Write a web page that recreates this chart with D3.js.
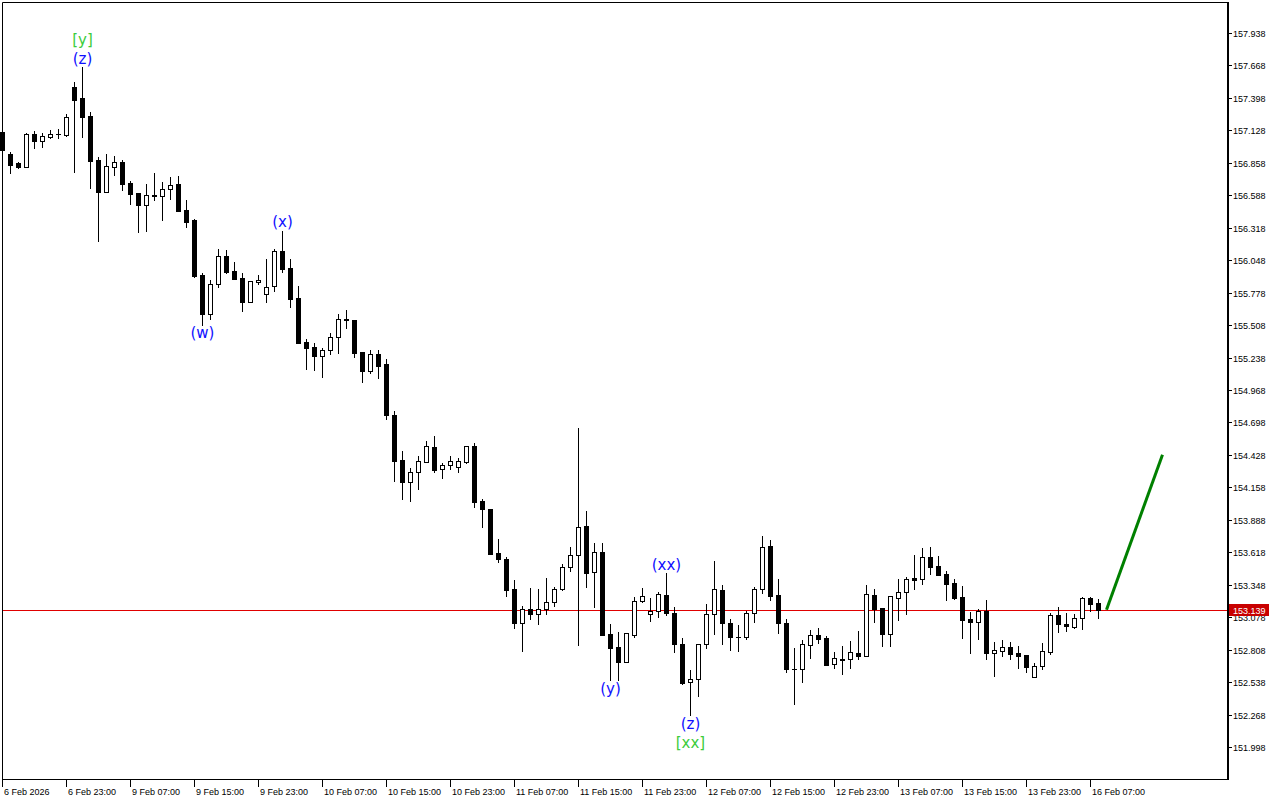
<!DOCTYPE html>
<html>
<head>
<meta charset="utf-8">
<script src="https://cdn.jsdelivr.net/npm/d3@7"></script>
<style>
  body { margin: 0; background: #fff; }
  svg { display: block; }
  text { font-family: "Liberation Sans", Arial, sans-serif; }
</style>
</head>
<body>
<svg width="1280" height="800"></svg>
<script>
// hourly candles, 6 Feb 2026 .. 16 Feb 2026
var open = [
157.114,156.931,156.857,156.823,157.098,157.040,157.073,157.094,157.089,157.489,
157.397,157.247,156.881,156.615,156.823,156.865,156.690,156.607,156.507,156.586,
156.582,156.640,156.682,156.465,156.382,155.925,155.600,155.850,156.083,155.958,
155.900,155.700,155.866,155.767,155.833,156.124,155.983,155.733,155.367,155.326,
155.251,155.301,155.409,155.559,155.550,155.284,155.126,155.267,155.184,154.760,
154.386,154.203,154.286,154.369,154.494,154.311,154.344,154.327,154.369,154.502,
154.044,153.978,153.612,153.562,153.312,153.030,153.146,153.104,153.146,153.204,
153.312,153.495,153.595,153.837,153.454,153.620,152.938,152.830,152.705,152.930,
153.213,153.104,153.129,153.262,153.113,152.855,152.539,152.564,152.855,153.104,
153.304,153.030,152.917,152.913,153.113,153.312,153.670,153.262,153.030,152.651,
152.647,152.846,152.930,152.905,152.688,152.734,152.730,152.780,152.755,153.262,
153.154,152.938,153.238,153.287,153.404,153.396,153.579,153.504,153.437,153.362,
153.246,153.063,153.038,153.129,152.780,152.797,152.830,152.780,152.763,152.580,
152.672,152.788,153.096,153.021,152.996,153.071,153.238,153.196];

var high = [
157.139,156.948,156.865,157.106,157.123,157.106,157.131,157.139,157.264,157.530,
157.655,157.281,156.906,156.931,156.915,156.881,156.707,156.607,156.682,156.773,
156.698,156.740,156.748,156.549,156.391,155.941,155.883,156.141,156.133,156.033,
155.941,155.875,155.925,156.058,156.141,156.291,156.058,155.833,155.392,155.359,
155.317,155.442,155.600,155.633,155.552,155.284,155.301,155.301,155.226,154.793,
154.460,154.319,154.419,154.544,154.585,154.361,154.419,154.402,154.506,154.527,
154.061,153.980,153.728,153.579,153.387,153.171,153.321,153.312,153.404,153.329,
153.520,153.662,154.652,153.961,153.695,153.695,153.021,152.955,152.946,153.246,
153.321,153.238,153.287,153.445,153.163,152.905,152.638,152.857,153.188,153.545,
153.346,153.063,153.013,153.129,153.329,153.753,153.720,153.396,153.063,152.822,
152.888,152.971,152.988,152.921,152.788,152.838,152.880,152.963,153.346,153.312,
153.156,153.256,153.396,153.412,153.595,153.654,153.662,153.587,153.462,153.396,
153.337,153.121,153.146,153.221,152.871,152.888,152.871,152.838,152.765,152.697,
152.863,153.113,153.163,153.113,153.104,153.246,153.246,153.229];

var low = [
156.940,156.773,156.815,156.823,156.981,156.990,157.064,157.064,157.081,156.782,
157.073,156.649,156.208,156.615,156.757,156.632,156.515,156.282,156.291,156.549,
156.382,156.557,156.455,156.324,155.908,155.509,155.559,155.825,155.941,155.891,
155.625,155.700,155.850,155.700,155.792,155.950,155.659,155.359,155.143,155.134,
155.076,155.267,155.276,155.484,155.242,155.034,155.109,155.068,154.727,154.211,
154.061,154.044,154.144,154.369,154.286,154.236,154.311,154.286,154.361,153.995,
153.828,153.602,153.537,153.254,152.988,152.797,153.063,153.021,153.104,153.171,
153.304,153.462,152.846,153.329,153.163,152.928,152.555,152.555,152.703,152.913,
153.204,153.046,153.079,153.096,152.788,152.522,152.264,152.422,152.822,152.938,
152.855,152.805,152.797,152.896,153.038,153.279,153.221,152.946,152.622,152.356,
152.539,152.738,152.863,152.678,152.655,152.605,152.655,152.730,152.753,153.038,
152.838,152.838,153.054,153.104,153.312,153.354,153.437,153.427,153.221,153.229,
152.905,152.780,152.896,152.730,152.589,152.755,152.730,152.655,152.622,152.578,
152.647,152.772,152.955,152.963,152.988,152.980,153.129,153.071];

var close = [
156.965,156.840,156.823,157.098,157.040,157.081,157.098,157.098,157.239,157.381,
157.239,156.873,156.615,156.832,156.865,156.682,156.599,156.507,156.590,156.590,
156.640,156.673,156.457,156.366,155.916,155.600,155.850,156.083,155.950,155.891,
155.700,155.875,155.883,155.825,156.124,155.975,155.725,155.359,155.317,155.251,
155.301,155.409,155.559,155.550,155.276,155.126,155.267,155.168,154.760,154.377,
154.203,154.286,154.377,154.502,154.302,154.344,154.377,154.377,154.502,154.036,
153.978,153.604,153.562,153.304,153.030,153.146,153.104,153.146,153.204,153.312,
153.495,153.595,153.828,153.445,153.620,152.930,152.822,152.705,152.946,153.213,
153.254,153.129,153.271,153.113,152.855,152.530,152.564,152.855,153.104,153.312,
153.030,152.913,152.909,153.113,153.312,153.662,153.254,153.030,152.647,152.647,
152.855,152.930,152.896,152.680,152.738,152.722,152.788,152.755,153.271,153.146,
152.938,153.254,153.287,153.396,153.387,153.579,153.495,153.429,153.354,153.238,
153.054,153.038,153.129,152.780,152.805,152.830,152.772,152.755,152.663,152.672,
152.797,153.096,153.021,153.005,153.071,153.238,153.188,153.139];

var timeLabels = ["6 Feb 2026","6 Feb 23:00","9 Feb 07:00","9 Feb 15:00","9 Feb 23:00",
  "10 Feb 07:00","10 Feb 15:00","10 Feb 23:00","11 Feb 07:00","11 Feb 15:00",
  "11 Feb 23:00","12 Feb 07:00","12 Feb 15:00","12 Feb 23:00","13 Feb 07:00",
  "13 Feb 15:00","13 Feb 23:00","16 Feb 07:00"];
var labelEvery = 8; // one time label every 8 bars

var priceTicks = d3.range(23).map(function(k) { return 151.998 + 0.27 * k; });
var lastPrice = 153.139;

// wave marks: bar index, text, side, stack level, colour
var waveBars   = [10, 10, 25, 35, 83, 76, 86, 86];
var waveTexts  = ["(z)", "[y]", "(w)", "(x)", "(xx)", "(y)", "(z)", "[xx]"];
var waveSides  = ["above", "above", "below", "above", "above", "below", "below", "below"];
var waveLevels = [0, 1, 0, 0, 0, 0, 0, 1];
var waveColors = ["#1010ff", "#3ccc3c", "#1010ff", "#1010ff", "#1010ff", "#1010ff", "#1010ff", "#3ccc3c"];

// projection line (bar index, price)
var projBars = [138, 145];
var projPrices = [153.139, 154.43];

var svg = d3.select("svg"),
    plotLeft = 2, plotTop = 2, plotRight = 1227, plotBottom = 779;

var x = d3.scaleLinear().domain([0, 1]).range([2, 10]);   // wick column of a bar
var y = d3.scaleLinear().domain([151.998, 157.938]).range([747, 33]);

var bars = d3.range(open.length).map(function(i) {
  return { i: i, o: open[i], h: high[i], l: low[i], c: close[i] };
});

// current price line
svg.append("line")
    .attr("x1", plotLeft).attr("x2", plotRight)
    .attr("y1", Math.round(y(lastPrice)) + 0.5).attr("y2", Math.round(y(lastPrice)) + 0.5)
    .attr("stroke", "#e00000").attr("stroke-width", 1);

// wicks
svg.append("g").selectAll("line")
    .data(bars)
    .enter().append("line")
    .attr("x1", function(d) { return x(d.i) + 0.5; })
    .attr("x2", function(d) { return x(d.i) + 0.5; })
    .attr("y1", function(d) { return Math.round(y(d.h)); })
    .attr("y2", function(d) { return Math.round(y(d.l)) + 1; })
    .attr("stroke", "#000").attr("stroke-width", 1);

// bodies
svg.append("g").selectAll("rect")
    .data(bars)
    .enter().append("rect")
    .each(function(d) {
      var top = Math.round(y(Math.max(d.o, d.c))),
          bot = Math.round(y(Math.min(d.o, d.c))),
          el = d3.select(this);
      if (d.c > d.o && bot - top >= 2) {
        el.attr("x", x(d.i) - 1.5).attr("y", top + 0.5)
          .attr("width", 4).attr("height", bot - top)
          .attr("fill", "#fff").attr("stroke", "#000").attr("stroke-width", 1);
      } else {
        el.attr("x", x(d.i) - 2).attr("y", top)
          .attr("width", 5).attr("height", Math.max(1, bot - top + 1))
          .attr("fill", "#000");
      }
    });

// green projection
svg.append("line")
    .attr("x1", x(projBars[0]) + 0.5).attr("y1", y(projPrices[0]))
    .attr("x2", x(projBars[1]) + 0.5).attr("y2", y(projPrices[1]))
    .attr("stroke", "#008000").attr("stroke-width", 3);

// wave labels
svg.append("g").selectAll("text")
    .data(waveBars)
    .enter().append("text")
    .attr("x", function(b) { return x(b) + 0.5; })
    .attr("y", function(b, k) {
      var off = 8.5 + 19 * waveLevels[k];
      return waveSides[k] == "above" ? y(high[b]) - off : y(low[b]) + off;
    })
    .attr("text-anchor", "middle")
    .attr("dominant-baseline", "central")
    .style("font-family", "'DejaVu Sans', sans-serif")
    .style("font-size", "15px")
    .attr("fill", function(b, k) { return waveColors[k]; })
    .text(function(b, k) { return waveTexts[k]; });

// frame
svg.append("path")
    .attr("d", "M" + (plotLeft + 0.5) + "," + (plotBottom + 0.5) + "V" + (plotTop + 0.5) + "H" + (plotRight + 1))
    .attr("fill", "none").attr("stroke", "#000").attr("stroke-width", 1);
svg.append("line")
    .attr("x1", plotLeft).attr("x2", plotRight)
    .attr("y1", plotBottom + 0.5).attr("y2", plotBottom + 0.5)
    .attr("stroke", "#000").attr("stroke-width", 1);
svg.append("line")
    .attr("x1", plotRight + 1).attr("x2", plotRight + 1)
    .attr("y1", plotTop).attr("y2", plotBottom + 1)
    .attr("stroke", "#000").attr("stroke-width", 2);

// price axis
var yAxis = svg.append("g");
yAxis.selectAll("line")
    .data(priceTicks)
    .enter().append("line")
    .attr("x1", plotRight + 1).attr("x2", plotRight + 5)
    .attr("y1", function(d) { return Math.round(y(d)) + 0.5; })
    .attr("y2", function(d) { return Math.round(y(d)) + 0.5; })
    .attr("stroke", "#000");
yAxis.selectAll("text")
    .data(priceTicks)
    .enter().append("text")
    .attr("x", plotRight + 6)
    .attr("y", function(d) { return Math.round(y(d)) + 4; })
    .style("font-size", "9px")
    .attr("fill", "#000")
    .text(function(d) { return d3.format(".3f")(d); });

// last price tag
var tagY = Math.round(y(lastPrice));
svg.append("rect")
    .attr("x", plotRight + 2).attr("y", tagY - 6)
    .attr("width", 40).attr("height", 12)
    .attr("fill", "#c80000");
svg.append("text")
    .attr("x", plotRight + 6).attr("y", tagY + 4)
    .style("font-size", "9px")
    .attr("fill", "#fff")
    .text(d3.format(".3f")(lastPrice));

// time axis
var xAxis = svg.append("g");
xAxis.selectAll("line")
    .data(timeLabels)
    .enter().append("line")
    .attr("x1", function(d, k) { return x(k * labelEvery) + 0.5; })
    .attr("x2", function(d, k) { return x(k * labelEvery) + 0.5; })
    .attr("y1", plotBottom + 1).attr("y2", plotBottom + 8)
    .attr("stroke", "#000");
xAxis.selectAll("text")
    .data(timeLabels)
    .enter().append("text")
    .attr("x", function(d, k) { return x(k * labelEvery) + 2; })
    .attr("y", 795)
    .style("font-size", "9px")
    .attr("fill", "#000")
    .text(function(d) { return d; });
</script>
</body>
</html>
